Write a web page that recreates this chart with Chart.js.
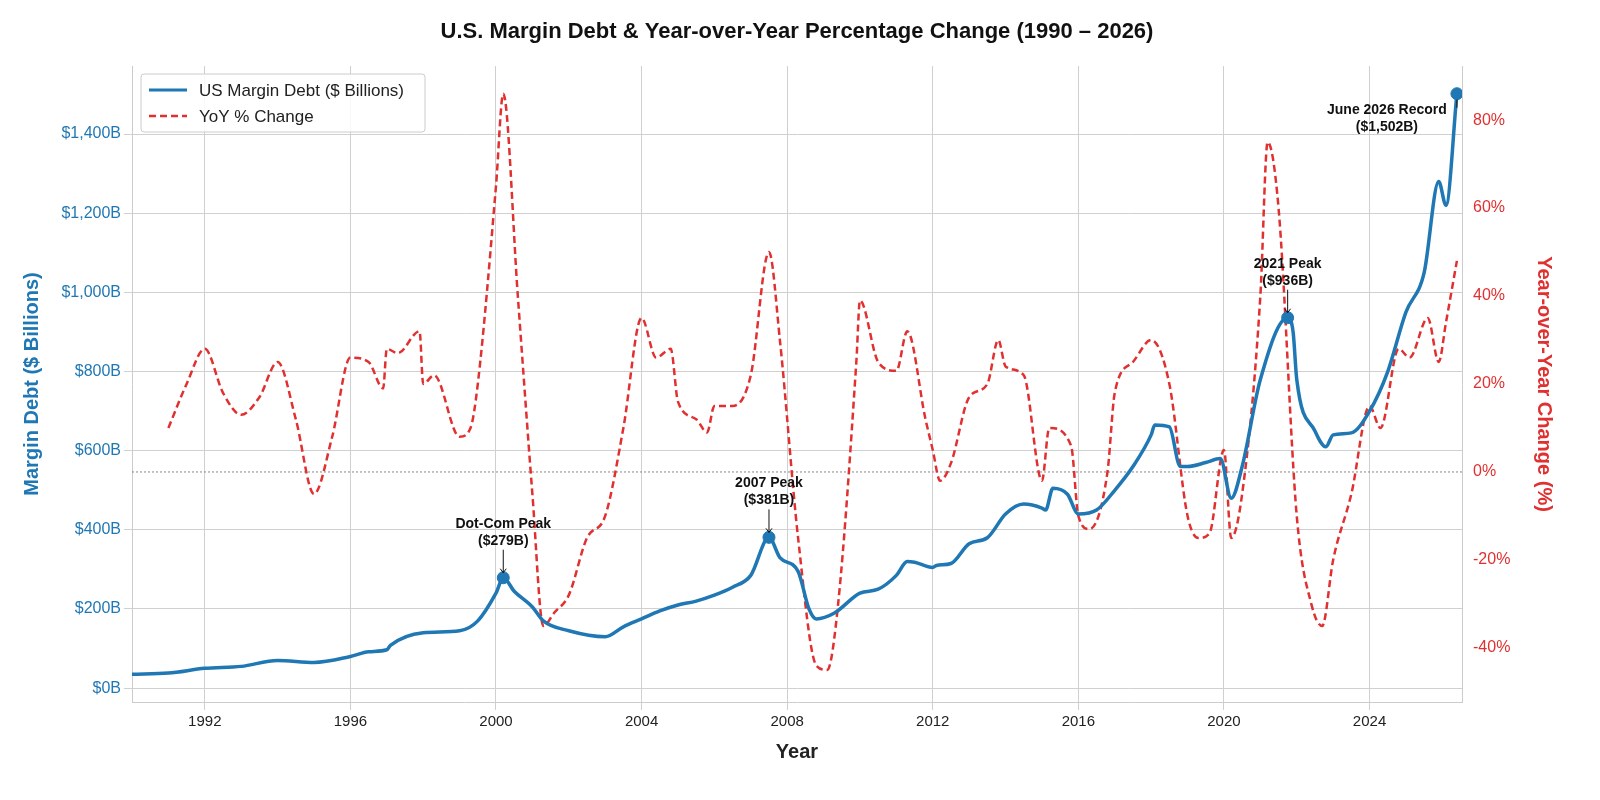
<!DOCTYPE html>
<html>
<head>
<meta charset="utf-8">
<script src="https://cdn.jsdelivr.net/npm/chart.js@4"></script>
<style>
  html, body { margin: 0; background: #fff; }
  #wrap { width: 1600px; height: 800px; }
</style>
</head>
<body>
<div id="wrap"><canvas id="grafico" width="1600" height="800"></canvas></div>
<script>
// --- DADOS ---
const DEBT_YEARS = [1990, 1991, 1992, 1993, 1994, 1995, 1996, 1996.5, 1997, 1997.1, 1998, 1999, 1999.5, 2000, 2000.2, 2000.5, 2001, 2001.3, 2002, 2003, 2003.5, 2004, 2004.5, 2005, 2005.5, 2006, 2006.5, 2007, 2007.5, 2007.8, 2008.3, 2008.6, 2008.8, 2009.3, 2010, 2010.5, 2011, 2011.3, 2011.5, 2012, 2012.1, 2012.5, 2013, 2013.5, 2014, 2014.5, 2015, 2015.1, 2015.3, 2015.7, 2016, 2016.5, 2017, 2017.5, 2018, 2018.1, 2018.5, 2018.8, 2019, 2019.5, 2019.9, 2020.2, 2020.5, 2021, 2021.75, 2021.9, 2022, 2022.5, 2022.8, 2023, 2023.5, 2024, 2024.5, 2025, 2025.5, 2025.9, 2026.1, 2026.4];
const DEBT_VALUES = [35, 38, 50, 55, 70, 65, 80, 92, 97, 108, 140, 145, 170, 240, 279, 245, 205, 170, 145, 130, 155, 175, 195, 210, 220, 235, 255, 285, 381, 330, 295, 200, 175, 190, 240, 250, 285, 320, 318, 305, 310, 315, 365, 380, 440, 465, 455, 450, 505, 490, 440, 450, 500, 560, 640, 665, 660, 560, 560, 570, 580, 480, 560, 780, 936, 900, 780, 650, 610, 640, 645, 700, 800, 950, 1050, 1280, 1220, 1502];

const YOY_YEARS = [1991, 1991.5, 1992, 1992.5, 1993, 1993.5, 1994, 1994.5, 1995, 1995.5, 1996, 1996.5, 1996.9, 1997, 1997.3, 1997.9, 1998, 1998.3, 1999, 1999.3, 1999.5, 2000, 2000.2, 2000.6, 2001, 2001.3, 2001.6, 2002, 2002.5, 2003, 2003.5, 2004, 2004.4, 2004.8, 2005, 2005.5, 2005.8, 2006, 2006.5, 2007, 2007.5, 2007.8, 2008.3, 2008.8, 2009.1, 2009.4, 2009.9, 2010, 2010.5, 2011, 2011.3, 2011.8, 2012, 2012.2, 2012.5, 2013, 2013.5, 2013.8, 2014, 2014.5, 2015, 2015.2, 2015.8, 2016, 2016.3, 2016.8, 2017, 2017.5, 2018, 2018.5, 2019, 2019.3, 2019.6, 2020, 2020.2, 2020.5, 2021, 2021.2, 2021.5, 2022, 2022.4, 2022.7, 2023, 2023.5, 2024, 2024.3, 2024.8, 2025.1, 2025.6, 2025.9, 2026.1, 2026.4];
const YOY_VALUES = [10, 20, 28, 18, 13, 17, 25, 12, -5, 8, 26, 25, 19, 28, 27, 32, 20, 22, 8, 10, 20, 65, 86, 40, -5, -35, -32, -28, -15, -10, 10, 35, 26, 28, 16, 12, 9, 15, 15, 22, 50, 30, -15, -44, -45, -30, 25, 39, 25, 23, 32, 12, 5, -2, 2, 17, 20, 30, 24, 22, -2, 10, 6, -10, -13, 0, 18, 25, 30, 20, -10, -15, -14, 5, -15, -5, 40, 75, 60, -10, -30, -35, -20, -5, 15, 10, 28, 26, 35, 25, 34, 48];

const PEAK_YEARS = [2000.2, 2007.5, 2021.75, 2026.4];
const PEAK_VALUES = [279, 381, 936, 1502];
const PEAK_LABELS = [['Dot-Com Peak', '($279B)'], ['2007 Peak', '($381B)'], ['2021 Peak', '($936B)'], ['June 2026 Record', '($1,502B)']];

const AZUL = '#1f77b4';
const VERMELHO = '#e03030';
const FONTE = '"Liberation Sans", Arial, sans-serif';

const toPoints = (xs, ys) => xs.map((x, i) => ({ x: x, y: ys[i] }));

// --- PLUGIN: título, linha zero, anotações, legenda ---
const extras = {
    id: 'extras',
    beforeDatasetsDraw(chart) {
        const { ctx, chartArea, scales } = chart;
        const y0 = scales.y2.getPixelForValue(0);
        ctx.save();
        ctx.strokeStyle = '#888';
        ctx.lineWidth = 1;
        ctx.setLineDash([2, 2]);
        ctx.beginPath();
        ctx.moveTo(chartArea.left, y0);
        ctx.lineTo(chartArea.right, y0);
        ctx.stroke();
        ctx.restore();
    },
    afterDraw(chart) {
        const { ctx, chartArea, scales } = chart;
        ctx.save();
        ctx.fillStyle = '#111';
        ctx.font = 'bold 22px ' + FONTE;
        ctx.textAlign = 'center';
        ctx.fillText('U.S. Margin Debt & Year-over-Year Percentage Change (1990 \u2013 2026)', 797, 38);

        // anotações dos picos
        ctx.font = 'bold 14px ' + FONTE;
        PEAK_YEARS.forEach((yr, i) => {
            const px = scales.x.getPixelForValue(yr);
            const py = scales.y.getPixelForValue(PEAK_VALUES[i]);
            const last = i === PEAK_YEARS.length - 1;
            const tx = last ? px - 70 : px;
            const ty = last ? py + 20 : py - 50;
            ctx.fillStyle = '#111';
            ctx.fillText(PEAK_LABELS[i][0], tx, ty);
            ctx.fillText(PEAK_LABELS[i][1], tx, ty + 17);
            ctx.strokeStyle = '#111';
            ctx.lineWidth = 1;
            ctx.beginPath();
            if (!last) {
                ctx.moveTo(px, ty + 22); ctx.lineTo(px, py - 5);
                ctx.moveTo(px - 3, py - 9); ctx.lineTo(px, py - 5); ctx.lineTo(px + 3, py - 9);
            } else {
                ctx.moveTo(px, py + 6); ctx.lineTo(px, py + 14);
            }
            ctx.stroke();
        });

        // legenda
        const lx = chartArea.left + 9, ly = chartArea.top + 8;
        ctx.fillStyle = 'rgba(255,255,255,0.85)';
        ctx.strokeStyle = '#ccc';
        ctx.lineWidth = 1;
        ctx.beginPath();
        ctx.roundRect(lx, ly, 284, 58, 3);
        ctx.fill(); ctx.stroke();
        ctx.lineWidth = 3; ctx.strokeStyle = AZUL;
        ctx.beginPath(); ctx.moveTo(lx + 8, ly + 16); ctx.lineTo(lx + 46, ly + 16); ctx.stroke();
        ctx.lineWidth = 2.5; ctx.strokeStyle = VERMELHO; ctx.setLineDash([7, 4]);
        ctx.beginPath(); ctx.moveTo(lx + 8, ly + 42); ctx.lineTo(lx + 46, ly + 42); ctx.stroke();
        ctx.setLineDash([]);
        ctx.fillStyle = '#222'; ctx.textAlign = 'left'; ctx.font = '17px ' + FONTE;
        ctx.fillText('US Margin Debt ($ Billions)', lx + 58, ly + 22);
        ctx.fillText('YoY % Change', lx + 58, ly + 48);
        ctx.restore();
    }
};

const grafico = new Chart(document.getElementById('grafico').getContext('2d'), {
    type: 'line',
    data: {
        datasets: [
            { label: 'Peaks', type: 'scatter', data: toPoints(PEAK_YEARS, PEAK_VALUES), yAxisID: 'y', backgroundColor: AZUL, borderColor: AZUL, pointRadius: 6, order: 0 },
            { label: 'US Margin Debt ($ Billions)', data: toPoints(DEBT_YEARS, DEBT_VALUES), yAxisID: 'y', borderColor: AZUL, borderWidth: 3.5, pointRadius: 0, cubicInterpolationMode: 'monotone', order: 1 },
            { label: 'YoY % Change', data: toPoints(YOY_YEARS, YOY_VALUES), yAxisID: 'y2', borderColor: VERMELHO, borderWidth: 2.5, borderDash: [7, 4], pointRadius: 0, cubicInterpolationMode: 'monotone', order: 2 }
        ]
    },
    options: {
        responsive: false,
        animation: false,
        layout: { padding: { top: 66, left: 16, right: 40, bottom: 0 } },
        plugins: { legend: { display: false }, tooltip: { enabled: false } },
        scales: {
            x: {
                type: 'linear', min: 1990, max: 2026.54,
                afterBuildTicks: (s) => { s.ticks = [1992, 1996, 2000, 2004, 2008, 2012, 2016, 2020, 2024].map(v => ({ value: v })); },
                afterFit: (s) => { s.height = 98; },
                ticks: { color: '#222', font: { size: 15, family: FONTE }, callback: v => String(v) },
                grid: { color: '#d0d0d0' },
                border: { color: '#ccc' },
                title: { display: true, text: 'Year', color: '#222', font: { size: 20, weight: 'bold', family: FONTE }, padding: { top: 0, bottom: 36 } }
            },
            y: {
                position: 'left', min: -35, max: 1572,
                afterBuildTicks: (s) => { s.ticks = [0, 200, 400, 600, 800, 1000, 1200, 1400].map(v => ({ value: v })); },
                afterFit: (s) => { s.width = 116; },
                ticks: { color: AZUL, font: { size: 16, family: FONTE }, callback: v => '$' + v.toLocaleString('en-US') + 'B' },
                grid: { color: '#d0d0d0' },
                border: { color: '#ccc' },
                title: { display: true, text: 'Margin Debt ($ Billions)', color: AZUL, font: { size: 20, weight: 'bold', family: FONTE } }
            },
            y2: {
                position: 'right', min: -52.3, max: 92.3,
                afterBuildTicks: (s) => { s.ticks = [-40, -20, 0, 20, 40, 60, 80].map(v => ({ value: v })); },
                afterFit: (s) => { s.width = 98; },
                ticks: { color: VERMELHO, font: { size: 16, family: FONTE }, callback: v => v + '%' },
                grid: { display: false },
                border: { color: '#ccc' },
                title: { display: true, text: 'Year-over-Year Change (%)', color: VERMELHO, font: { size: 20, weight: 'bold', family: FONTE } }
            }
        }
    },
    plugins: [extras]
});
</script>
</body>
</html>
